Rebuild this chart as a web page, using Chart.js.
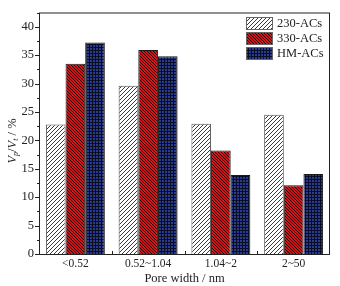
<!DOCTYPE html>
<html>
<head>
<meta charset="utf-8">
<script src="https://cdn.jsdelivr.net/npm/chart.js@4/dist/chart.umd.min.js"></script>
<style>
  html, body { margin: 0; padding: 0; background: #fff; }
  #wrap { width: 340px; height: 286px; }
</style>
</head>
<body>
<div id="wrap"><canvas id="chart" width="340" height="286"></canvas></div>
<script>
const categories = ['<0.52', '0.52~1.04', '1.04~2', '2~50'];
const series_names = ['230-ACs', '330-ACs', 'HM-ACs'];
const values_230 = [22.8, 29.6, 22.9, 24.5];
const values_330 = [33.5, 35.9, 18.2, 12.1];
const values_hm = [37.2, 34.8, 13.9, 14.1];
const y_ticks = [0, 5, 10, 15, 20, 25, 30, 35, 40];

const FONT = '"Liberation Serif", "Times New Roman", serif';
const INK = '#222';

// small tiled patterns to mimic the hatch fills
const makePattern = (size, draw) => {
    const c = document.createElement('canvas');
    c.width = size;
    c.height = size;
    draw(c.getContext('2d'), size);
    return c.getContext('2d').createPattern(c, 'repeat');
};

const hatchWhite = makePattern(4, (g, s) => {
    g.fillStyle = '#fff';
    g.fillRect(0, 0, s, s);
    g.fillStyle = '#3a3a3a';
    for (let i = 0; i < s; i++) {
        g.fillRect(s - 1 - i, i, 1, 1);
    }
});

const hatchRed = makePattern(3, (g, s) => {
    g.fillStyle = '#d01418';
    g.fillRect(0, 0, s, s);
    g.fillStyle = '#2a0606';
    for (let i = 0; i < s; i++) {
        g.fillRect(i, i, 1, 1);
    }
});

const dotsBlue = makePattern(3, (g, s) => {
    g.fillStyle = '#0a0d26';
    g.fillRect(0, 0, s, s);
    g.fillStyle = '#2c3a8a';
    g.fillRect(0, 0, 2, 2);
});

const fills = [hatchWhite, hatchRed, dotsBlue];

// frame, minor ticks, legend and the y title with subscripts
const decorations = {
    id: 'decorations',
    afterDraw(chart) {
        const ctx = chart.ctx;
        const area = chart.chartArea;
        const y = chart.scales.y;
        const x = chart.scales.x;
        ctx.save();

        ctx.strokeStyle = INK;
        ctx.lineWidth = 1;
        ctx.strokeRect(area.left + 0.5, area.top + 0.5, area.right - area.left - 1, area.bottom - area.top);

        // y ticks, major and minor, outward
        for (let v = 0; v <= 42.5; v += 2.5) {
            const py = Math.round(y.getPixelForValue(v)) + 0.5;
            const len = (v % 5 === 0) ? 4 : 2;
            ctx.beginPath();
            ctx.moveTo(area.left, py);
            ctx.lineTo(area.left - len, py);
            ctx.stroke();
        }

        // x ticks between categories, inward
        for (let i = 1; i < categories.length; i++) {
            const px = Math.round((x.getPixelForValue(i - 1) + x.getPixelForValue(i)) / 2) + 0.5;
            ctx.beginPath();
            ctx.moveTo(px, area.bottom);
            ctx.lineTo(px, area.bottom - 3);
            ctx.stroke();
        }

        // legend
        ctx.font = '12.5px ' + FONT;
        ctx.textBaseline = 'middle';
        ctx.textAlign = 'left';
        for (let i = 0; i < series_names.length; i++) {
            const bx = 246, by = 17 + i * 15;
            ctx.fillStyle = fills[i];
            ctx.fillRect(bx, by, 27, 13);
            ctx.strokeStyle = '#666';
            ctx.strokeRect(bx + 0.5, by + 0.5, 26, 12);
            ctx.fillStyle = INK;
            ctx.fillText(series_names[i], 277, by + 7);
        }

        // y title: V_p/V_t / %
        ctx.translate(13, 141);
        ctx.rotate(-Math.PI / 2);
        const parts = [
            ['V', 'italic 12.5px ' + FONT, 0],
            ['p', 'italic 8px ' + FONT, 3],
            ['/', '12.5px ' + FONT, 0],
            ['V', 'italic 12.5px ' + FONT, 0],
            ['t', 'italic 8px ' + FONT, 3],
            [' / %', '12.5px ' + FONT, 0],
        ];
        let total = 0;
        for (const [t, f] of parts) {
            ctx.font = f;
            total += ctx.measureText(t).width;
        }
        let cx = -total / 2;
        ctx.fillStyle = INK;
        ctx.textBaseline = 'middle';
        for (const [t, f, dy] of parts) {
            ctx.font = f;
            ctx.fillText(t, cx, dy);
            cx += ctx.measureText(t).width;
        }
        ctx.restore();
    }
};

const datasets = [values_230, values_330, values_hm].map((data, i) => ({
    label: series_names[i],
    data: data,
    backgroundColor: fills[i],
    borderColor: i === 0 ? '#555' : '#1a1a1a',
    borderWidth: 1,
    borderSkipped: 'bottom',
    categoryPercentage: 0.81,
    barPercentage: 1.0,
}));

new Chart(document.getElementById('chart'), {
    type: 'bar',
    data: { labels: categories, datasets: datasets },
    plugins: [decorations],
    options: {
        responsive: false,
        animation: false,
        layout: { padding: { top: 10, right: 10, left: 0, bottom: 0 } },
        plugins: {
            legend: { display: false },
            tooltip: { enabled: false },
        },
        scales: {
            x: {
                grid: { display: false, drawTicks: false },
                border: { display: false },
                ticks: {
                    color: INK,
                    font: { family: FONT, size: 11.5 },
                    padding: 3,
                    maxRotation: 0,
                },
                title: {
                    display: true,
                    text: 'Pore width / nm',
                    color: INK,
                    font: { family: FONT, size: 12.5 },
                    padding: { top: 0, bottom: 0 },
                },
                afterFit(scale) { scale.height = 32; },
            },
            y: {
                min: 0,
                max: 42.5,
                grid: { display: false, drawTicks: false },
                border: { display: false },
                afterBuildTicks(scale) {
                    scale.ticks = y_ticks.map(v => ({ value: v }));
                },
                ticks: {
                    color: INK,
                    font: { family: FONT, size: 12.5 },
                    padding: 5,
                },
                afterFit(scale) { scale.width = 39; },
            },
        },
    },
});
</script>
</body>
</html>
